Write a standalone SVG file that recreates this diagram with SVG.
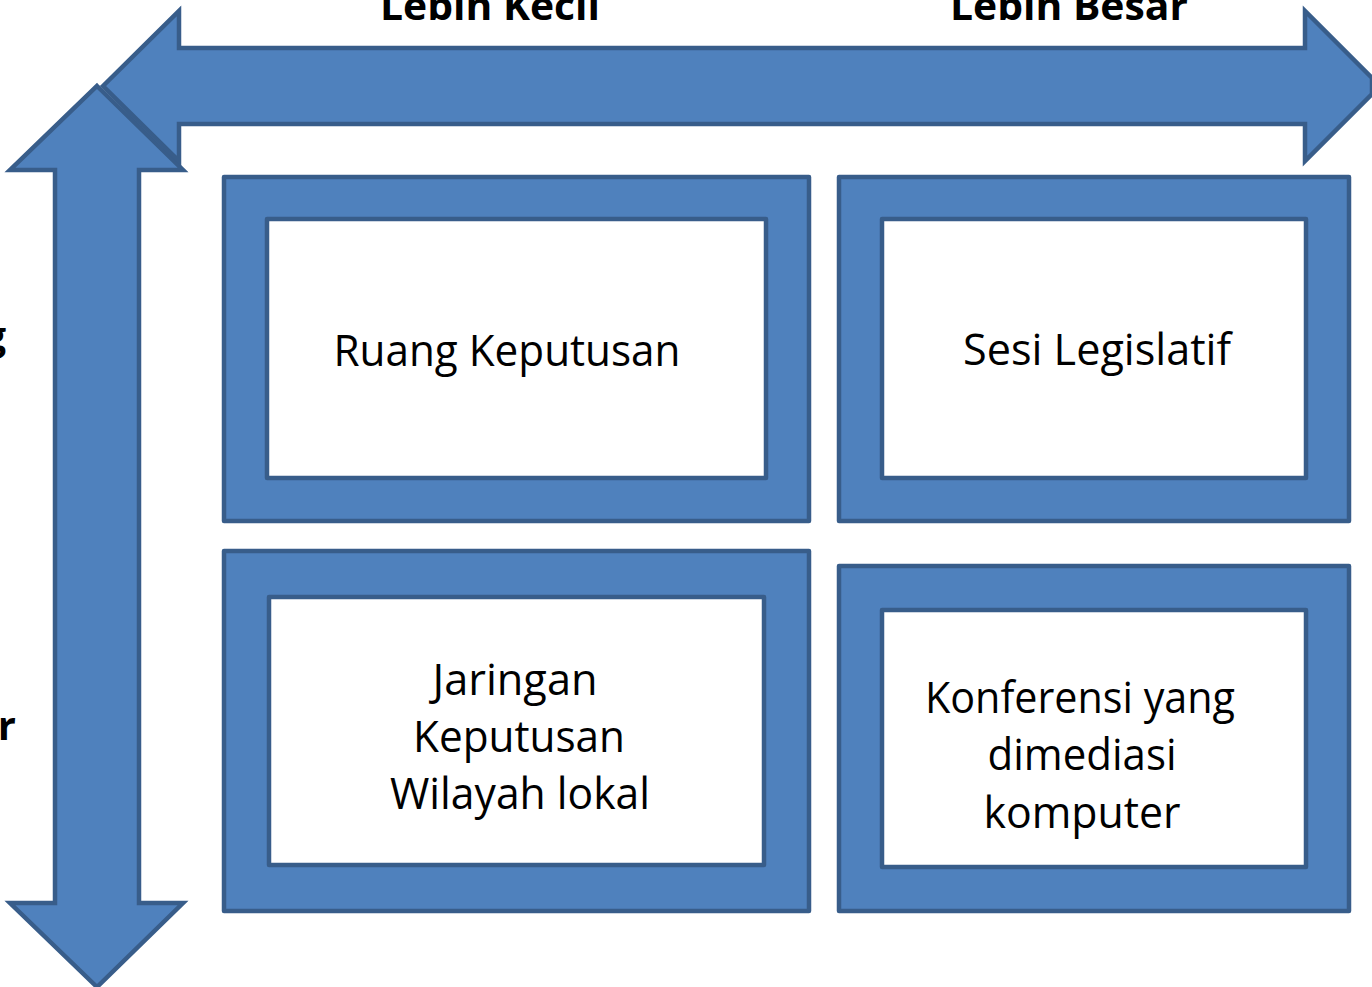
<svg xmlns="http://www.w3.org/2000/svg" width="1372" height="987" viewBox="0 0 1372 987">
<style>
.shape{fill:#4F81BD;stroke:#385D8A;stroke-width:4.5;stroke-linejoin:miter}
.frame{fill:#4F81BD;fill-rule:evenodd;stroke:#385D8A;stroke-width:4.5;stroke-linejoin:round}
.lbl{font-family:"Open Sans","Liberation Sans",sans-serif;font-size:44px;fill:#000;text-anchor:middle}
.axis{font-family:"Open Sans","Liberation Sans",sans-serif;font-size:40px;font-weight:bold;fill:#000}
</style>
<rect width="1372" height="987" fill="#fff"/>
<g id="connectors">
<path id="vertical-arrow" class="shape" d="M97,86 L183,170 L139,170 L139,903 L183,903 L97,987 L10,903 L55,903 L55,170 L10,170 Z"/>
<path id="horizontal-arrow" class="shape" d="M103,86 L179,11 L179,48 L1305,48 L1305,11 L1372,78 L1372,94 L1305,161 L1305,124 L179,124 L179,161 Z"/>
</g>
<g id="axis-labels">
<text class="axis" x="490" y="20" text-anchor="middle" textLength="220" lengthAdjust="spacingAndGlyphs">Lebih Kecil</text>
<text class="axis" x="1069" y="20" text-anchor="middle" textLength="238" lengthAdjust="spacingAndGlyphs">Lebih Besar</text>
<text class="axis" x="6" y="350" text-anchor="end">g</text>
<text class="axis" x="16" y="740" text-anchor="end">r</text>
</g>
<g id="node-ruang">
<path class="frame" d="M224,177 H809 V521 H224 Z M267,219 V478 H766 V219 Z"/>
<text class="lbl" x="507" y="366" textLength="347" lengthAdjust="spacingAndGlyphs">Ruang Keputusan</text>
</g>
<g id="node-sesi">
<path class="frame" d="M839,177 H1349 V521 H839 Z M882,219 V478 H1306 V219 Z"/>
<text class="lbl" x="1097" y="365" textLength="268" lengthAdjust="spacingAndGlyphs">Sesi Legislatif</text>
</g>
<g id="node-jaringan">
<path class="frame" d="M224,551 H809 V911 H224 Z M269,597 V865 H764 V597 Z"/>
<text class="lbl" x="515" y="695" textLength="165" lengthAdjust="spacingAndGlyphs">Jaringan</text>
<text class="lbl" x="519" y="752" textLength="212" lengthAdjust="spacingAndGlyphs">Keputusan</text>
<text class="lbl" x="520" y="809" textLength="260" lengthAdjust="spacingAndGlyphs">Wilayah lokal</text>
</g>
<g id="node-konferensi">
<path class="frame" d="M839,566 H1349 V911 H839 Z M882,610 V867 H1306 V610 Z"/>
<text class="lbl" x="1080" y="713" textLength="310" lengthAdjust="spacingAndGlyphs">Konferensi yang</text>
<text class="lbl" x="1082" y="770" textLength="189" lengthAdjust="spacingAndGlyphs">dimediasi</text>
<text class="lbl" x="1082" y="828" textLength="197" lengthAdjust="spacingAndGlyphs">komputer</text>
</g>
</svg>
